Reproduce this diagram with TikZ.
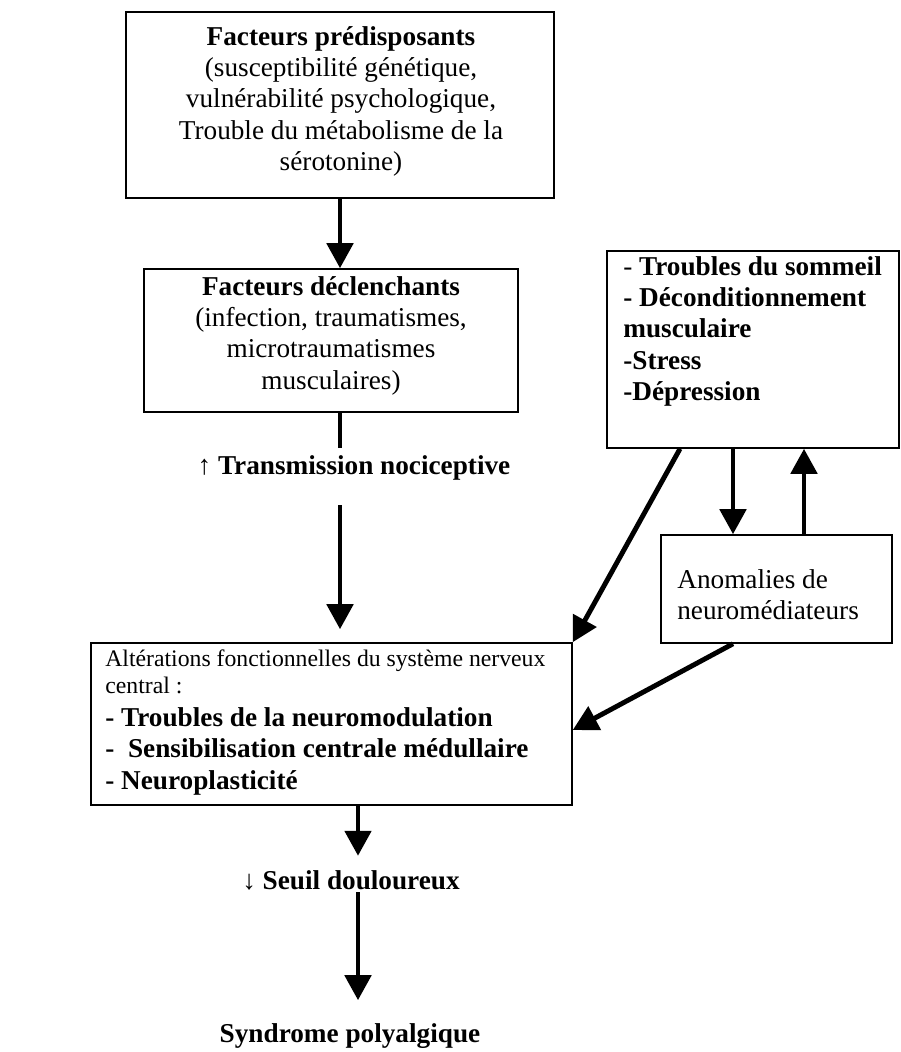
\documentclass[tikz,border=0pt]{standalone}
\usepackage{fontspec}
\setmainfont{Liberation Serif}
\usetikzlibrary{arrows.meta}

\newcommand{\altsmall}{\fontsize{13.5}{15.4}\selectfont}

\begin{document}
\begin{tikzpicture}[x=0.02cm, y=-0.02cm,
  box/.style={draw, line width=0.9pt, inner sep=0pt},
  txt/.style={inner sep=0pt, font=\fontsize{15.5}{17.8}\selectfont},
  arr/.style={line width=2.8pt, -{Triangle[length=0.5cm, width=0.52cm]}},
  bar/.style={line width=2.8pt}]
  \useasboundingbox (0,0) rectangle (901,1052);

  \coordinate (ax) at (340, 0);
  \coordinate (ax2) at (358, 0);
  \coordinate (bx0) at (680, 0);
  \coordinate (bx1) at (733, 0);
  \coordinate (bx2) at (804, 0);
  \coordinate (t1) at (340, 448);
  \coordinate (t2) at (340, 505);

  \node[box, minimum width=8.56cm, minimum height=3.72cm] (pre) at (340, 105) {};
  \node[box, minimum width=7.48cm, minimum height=2.86cm] (dec) at (331, 340.5) {};
  \node[box, minimum width=9.62cm, minimum height=3.24cm] (alt) at (331.5, 724) {};
  \node[box, minimum width=5.84cm, minimum height=3.94cm] (trb) at (753, 349.5) {};
  \node[box, minimum width=4.62cm, minimum height=2.16cm] (ano) at (776.5, 589) {};

  \node[txt, anchor=north, align=center] (preTxt) at (341, 26)
    {\textbf{Facteurs prédisposants}\\(susceptibilité génétique,\\vulnérabilité psychologique,\\Trouble du métabolisme de la\\sérotonine)};
  \node[txt, anchor=north, align=center] (decTxt) at (331, 276)
    {\textbf{Facteurs déclenchants}\\(infection, traumatismes,\\microtraumatismes\\musculaires)};
  \node[txt, anchor=north west, align=left] (altTxt) at (105, 649)
    {{\altsmall Altérations fonctionnelles du système nerveux}\\[-2.3pt]
     {\altsmall central :}\\[1.1pt]
     \textbf{- Troubles de la neuromodulation}\\
     \textbf{-~ Sensibilisation centrale médullaire}\\
     \textbf{- Neuroplasticité}};
  \node[txt, anchor=north west, align=left] (trbTxt) at (623, 256)
    {- \textbf{Troubles du sommeil}\\\textbf{- Déconditionnement}\\\textbf{musculaire}\\\textbf{-Stress}\\\textbf{-Dépression}};
  \node[txt, anchor=north west, align=left] (anoTxt) at (677, 569)
    {Anomalies de\\neuromédiateurs};

  \node[txt] (tra) at (354, 468) {↑ \textbf{Transmission nociceptive}};
  \node[txt] (seu) at (351, 880) {↓ \textbf{Seuil douloureux}};
  \node[txt] (syn) at (350, 1036) {\textbf{Syndrome polyalgique}};

  \draw[arr] (pre.south -| ax) -- (dec.north -| ax);
  \draw[bar] (dec.south -| ax) -- (t1);
  \draw[arr, shorten >=0.26cm] (t2) -- (alt.north -| ax);
  \draw[arr, shorten >=0.28cm] (alt.south -| ax2) -- (seu.north -| ax2);
  \draw[arr, shorten <=0.04cm, shorten >=0.46cm] (seu.south -| ax2) -- (syn.north -| ax2);

  \draw[arr] (trb.south -| bx1) -- (ano.north -| bx1);
  \draw[arr] (ano.north -| bx2) -- (trb.south -| bx2);
  \draw[arr] (trb.south -| bx0) -- (alt.north east);
  \draw[arr] (ano.south -| bx1) -- (alt.east |- 0,730);
\end{tikzpicture}
\end{document}
